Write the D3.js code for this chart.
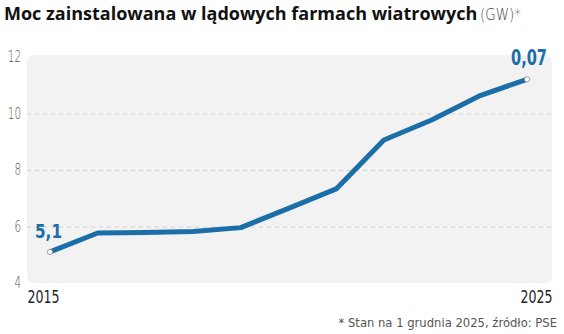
<!DOCTYPE html>
<html>
<head>
<meta charset="utf-8">
<script src="https://cdn.jsdelivr.net/npm/d3@7"></script>
<style>
  body { margin: 0; background: #fff; }
  svg { display: block; }
  .narrow { font-family: "DejaVu Sans", sans-serif; }
</style>
</head>
<body>
<div class="chart"></div>
<script>
// data
const years = [2015, 2016, 2017, 2018, 2019, 2020, 2021, 2022, 2023, 2024, 2025];
const capacity = [5.1, 5.77, 5.79, 5.82, 5.96, 6.64, 7.33, 9.06, 9.77, 10.62, 11.21];
const yTicks = [4, 6, 8, 10, 12];
const gridTicks = [6, 8, 10];
const xTicks = [2015, 2025];
const firstLabel = "5,1";
const lastLabel = "0,07";

const W = 564, H = 334;
const panel = {left: 27, right: 552, top: 55, bottom: 283};
const blue = "#1b6ea7";

const data = years.map((y, i) => ({year: y, value: capacity[i]}));

// no condensed face is installed, so squeeze the narrow texts
function squeeze(sel, w) {
    sel.attr("textLength", w).attr("lengthAdjust", "spacingAndGlyphs");
}

const svg = d3.select(".chart").append("svg")
    .attr("width", W)
    .attr("height", H);

const x = d3.scaleLinear()
    .domain([2015, 2025])
    .range([50, 527]);

const y = d3.scaleLinear()
    .domain([4, 12])
    .range([283, 57]);

// title
svg.append("text")
    .attr("x", 4)
    .attr("y", 20)
    .attr("font-family", "'Open Sans', sans-serif")
    .attr("font-size", 18)
    .attr("font-weight", "bold")
    .attr("fill", "#111")
    .text("Moc zainstalowana w lądowych farmach wiatrowych");

svg.append("text")
    .attr("class", "narrow")
    .attr("x", 480)
    .attr("y", 20)
    .attr("font-size", 15)
    .attr("font-weight", 200)
    .attr("fill", "#444")
    .text("(GW)*")
    .call(squeeze, 41);

// grey panel
svg.append("rect")
    .attr("x", panel.left)
    .attr("y", panel.top)
    .attr("width", panel.right - panel.left)
    .attr("height", panel.bottom - panel.top)
    .attr("rx", 7)
    .attr("fill", "#f2f2f2");

// dashed grid
svg.append("g")
    .attr("transform", `translate(${panel.left},0)`)
    .call(d3.axisRight(y).tickValues(gridTicks).tickSize(panel.right - panel.left).tickFormat(""))
    .call(g => g.select(".domain").remove())
    .call(g => g.selectAll(".tick line")
        .attr("stroke", "#d0d0d0")
        .attr("stroke-dasharray", "4,4"));

// y labels
svg.append("g")
    .attr("class", "narrow")
    .attr("transform", "translate(23,0)")
    .call(d3.axisLeft(y).tickValues(yTicks).tickSize(0).tickPadding(2))
    .call(g => g.select(".domain").remove())
    .call(g => g.selectAll(".tick text")
        .attr("font-size", 15)
        .attr("font-weight", 200)
        .attr("fill", "#555")
        .each(function(d) { squeeze(d3.select(this), String(d).length * 6.6); }));

// x labels
svg.append("g")
    .attr("class", "narrow")
    .attr("transform", `translate(0,${panel.bottom})`)
    .call(d3.axisBottom(x).tickValues(xTicks).tickSize(0).tickPadding(6).tickFormat(d3.format("d")))
    .call(g => g.select(".domain").remove())
    .call(g => g.selectAll(".tick text")
        .attr("font-size", 17)
        .attr("fill", "#1f1f1f")
        .attr("dy", "0.82em")
        .attr("text-anchor", (d, i) => i === 0 ? "start" : "end")
        .attr("dx", (d, i) => i === 0 ? panel.left - x(d) : panel.right - x(d))
        .call(squeeze, 32));

// line
const line = d3.line()
    .x(d => x(d.year))
    .y(d => y(d.value));

svg.append("path")
    .datum(data)
    .attr("fill", "none")
    .attr("stroke", blue)
    .attr("stroke-width", 5)
    .attr("stroke-linejoin", "round")
    .attr("d", line);

// end points
const ends = [data[0], data[data.length - 1]];
svg.selectAll("circle.end")
    .data(ends)
    .join("circle")
    .attr("class", "end")
    .attr("cx", d => x(d.year))
    .attr("cy", d => y(d.value))
    .attr("r", 2.6)
    .attr("fill", "#fff")
    .attr("stroke", "#888")
    .attr("stroke-width", 0.8);

// value labels
svg.append("text")
    .attr("class", "narrow")
    .attr("x", 35)
    .attr("y", y(data[0].value) - 14)
    .attr("font-size", 20)
    .attr("font-weight", "bold")
    .attr("fill", blue)
    .text(firstLabel)
    .call(squeeze, 27);

svg.append("text")
    .attr("class", "narrow")
    .attr("x", 547)
    .attr("y", y(data[data.length - 1].value) - 14)
    .attr("text-anchor", "end")
    .attr("font-size", 21)
    .attr("font-weight", "bold")
    .attr("fill", blue)
    .text(lastLabel)
    .call(squeeze, 36);

// footnote
svg.append("text")
    .attr("class", "narrow")
    .attr("x", 557)
    .attr("y", 327)
    .attr("text-anchor", "end")
    .attr("font-size", 11.6)
    .attr("fill", "#555")
    .text("* Stan na 1 grudnia 2025, źródło: PSE");
</script>
</body>
</html>
